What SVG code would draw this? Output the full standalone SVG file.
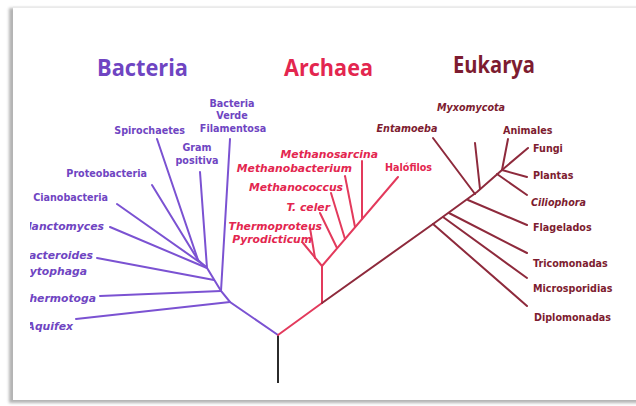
<svg xmlns="http://www.w3.org/2000/svg" width="636" height="406" viewBox="0 0 636 406">
<defs>
<filter id="sh" x="-5%" y="-5%" width="110%" height="110%"><feGaussianBlur stdDeviation="1.6"/></filter>
<clipPath id="clip"><rect x="30" y="8" width="606" height="392"/></clipPath>
<style>
.t{font-family:"Open Sans","Liberation Sans",sans-serif;font-weight:bold;font-size:23px}
.l{font-family:"DejaVu Sans",sans-serif;font-weight:bold;font-size:9.6px}
.i{font-style:italic}
.bi{font-style:italic;font-size:10.8px}
.b{fill:#6f45c2}
.a{fill:#e3264f}
.e{fill:#7d1c30}
.lb{stroke:#7b52d2;stroke-width:2;fill:none;stroke-linecap:round}
.la{stroke:#e33a5c;stroke-width:2;fill:none;stroke-linecap:round}
.le{stroke:#8e2a3c;stroke-width:2;fill:none;stroke-linecap:round}
</style>
</defs>
<rect width="636" height="406" fill="#ffffff"/>
<rect x="9" y="8" width="640" height="395" fill="#b4b4b4" filter="url(#sh)"/>
<rect x="13" y="8" width="640" height="392" fill="#ffffff"/>
<line x1="13" y1="7" x2="636" y2="7" stroke="#ececec" stroke-width="1.5"/>

<g id="titles">
<text class="t b" x="97" y="76" textLength="91" lengthAdjust="spacingAndGlyphs">Bacteria</text>
<text class="t a" x="284" y="76" textLength="89" lengthAdjust="spacingAndGlyphs">Archaea</text>
<text class="t e" x="453" y="73" textLength="82" lengthAdjust="spacingAndGlyphs">Eukarya</text>
</g>

<g id="connectors" clip-path="url(#clip)">
<line x1="278" y1="335" x2="278" y2="383" stroke="#2b2b2b" stroke-width="2"/>
<polyline class="lb" points="278,335 230,302 221,291 207,268 198,260"/>
<line class="lb" x1="76" y1="319" x2="230" y2="302"/>
<line class="lb" x1="100" y1="296" x2="221" y2="291"/>
<line class="lb" x1="221" y1="291" x2="230" y2="139"/>
<line class="lb" x1="97" y1="258" x2="214" y2="280"/>
<line class="lb" x1="110" y1="227" x2="207" y2="268"/>
<line class="lb" x1="117" y1="204" x2="205" y2="266"/>
<line class="lb" x1="200" y1="172" x2="207" y2="268"/>
<line class="lb" x1="152" y1="185" x2="198" y2="260"/>
<line class="lb" x1="157" y1="139" x2="198" y2="260"/>

<line class="la" x1="278" y1="335" x2="322" y2="303"/>
<line class="la" x1="322" y1="303" x2="322" y2="266"/>
<line class="la" x1="322" y1="266" x2="303" y2="243"/>
<line class="la" x1="315" y1="258" x2="310" y2="228"/>
<line class="la" x1="322" y1="266" x2="398" y2="177"/>
<line class="la" x1="337" y1="248" x2="320" y2="213"/>
<line class="la" x1="345" y1="239" x2="331" y2="193"/>
<line class="la" x1="355" y1="227" x2="345" y2="176"/>
<line class="la" x1="362" y1="219" x2="362" y2="161"/>

<polyline class="le" points="322,303 433,224 477,192 502,170 528,148"/>
<line class="le" x1="433" y1="224" x2="527" y2="306"/>
<line class="le" x1="443" y1="217" x2="527" y2="278"/>
<line class="le" x1="449" y1="213" x2="527" y2="253"/>
<line class="le" x1="468" y1="200" x2="527" y2="225"/>
<line class="le" x1="497" y1="174" x2="527" y2="195"/>
<line class="le" x1="502" y1="170" x2="527" y2="177"/>
<line class="le" x1="502" y1="170" x2="508" y2="139"/>
<line class="le" x1="480" y1="189" x2="475" y2="143"/>
<line class="le" x1="475" y1="194" x2="433" y2="138"/>
</g>

<g id="bacteria-labels" class="l b" clip-path="url(#clip)">
<g id="n-filamentosa" text-anchor="middle"><text x="232" y="107">Bacteria</text><text x="232" y="119">Verde</text><text x="233" y="132">Filamentosa</text></g>
<g id="n-spirochaetes"><text x="185" y="134" text-anchor="end">Spirochaetes</text></g>
<g id="n-gram" text-anchor="middle"><text x="197" y="151">Gram</text><text x="197" y="164">positiva</text></g>
<g id="n-proteobacteria"><text x="147" y="177" text-anchor="end">Proteobacteria</text></g>
<g id="n-cianobacteria"><text x="108" y="201" text-anchor="end">Cianobacteria</text></g>
<g id="n-planctomyces"><text class="bi" x="104" y="230" text-anchor="end">Planctomyces</text></g>
<g id="n-bacteroides"><text class="bi" x="93" y="259" text-anchor="end">Bacteroides</text><text class="bi" x="87" y="275" text-anchor="end">Cytophaga</text></g>
<g id="n-thermotoga"><text class="bi" x="96" y="302" text-anchor="end">Thermotoga</text></g>
<g id="n-aquifex"><text class="bi" x="73" y="330" text-anchor="end">Aquifex</text></g>
</g>

<g id="archaea-labels" class="l a" font-size="10">
<g id="n-methanosarcina"><text class="bi" x="378" y="158" text-anchor="end">Methanosarcina</text></g>
<g id="n-methanobacterium"><text class="bi" x="352" y="172" text-anchor="end">Methanobacterium</text></g>
<g id="n-methanococcus"><text class="bi" x="343" y="191" text-anchor="end">Methanococcus</text></g>
<g id="n-tceler"><text class="bi" x="330" y="211" text-anchor="end">T. celer</text></g>
<g id="n-thermoproteus"><text class="bi" x="322" y="230" text-anchor="end">Thermoproteus</text></g>
<g id="n-pyrodicticum"><text class="bi" x="312" y="243" text-anchor="end">Pyrodicticum</text></g>
<g id="n-halofilos"><text x="385" y="171">Halófilos</text></g>
</g>

<g id="eukarya-labels" class="l e">
<g id="n-myxomycota"><text class="i" x="471" y="111" text-anchor="middle">Myxomycota</text></g>
<g id="n-entamoeba"><text class="i" x="407" y="132" text-anchor="middle">Entamoeba</text></g>
<g id="n-animales"><text x="503" y="134">Animales</text></g>
<g id="n-fungi"><text x="533" y="152">Fungi</text></g>
<g id="n-plantas"><text x="533" y="179">Plantas</text></g>
<g id="n-ciliophora"><text class="i" x="531" y="206">Ciliophora</text></g>
<g id="n-flagelados"><text x="533" y="231">Flagelados</text></g>
<g id="n-tricomonadas"><text x="533" y="267">Tricomonadas</text></g>
<g id="n-microsporidias"><text x="533" y="292">Microsporidias</text></g>
<g id="n-diplomonadas"><text x="534" y="321">Diplomonadas</text></g>
</g>
</svg>
